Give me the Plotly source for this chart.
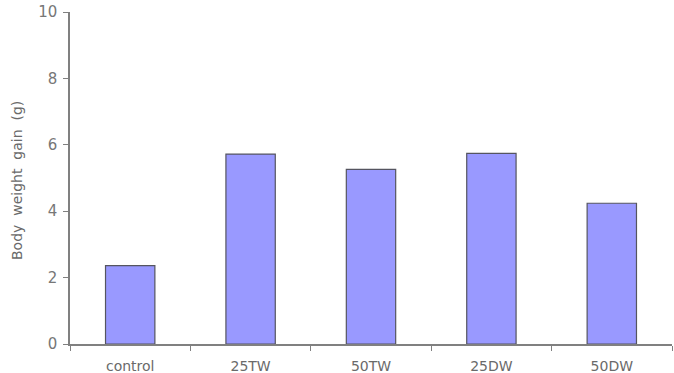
import plotly.graph_objects as go

categories = ["control", "25TW", "50TW", "25DW", "50DW"]
values = [2.36, 5.72, 5.26, 5.74, 4.24]
y_ticks = [0, 2, 4, 6, 8, 10]
y_title = "Body\u00a0 weight\u00a0 gain\u00a0 (g)"

fig = go.Figure(go.Bar(
    x=categories, y=values, width=0.41,
    marker=dict(color="#9999ff", line=dict(color="#555560", width=1.2)),
))

fig.update_layout(
    width=674, height=373,
    margin=dict(l=70, r=2, t=12, b=29),
    plot_bgcolor="white", paper_bgcolor="white",
    showlegend=False,
    font=dict(family="DejaVu Sans, sans-serif", color="#666666", size=14),
)
fig.update_xaxes(
    showline=True, linecolor="#808080", linewidth=1.5,
    ticks="outside", tickson="boundaries", ticklen=5, tickcolor="#808080",
    tickfont=dict(size=14, color="#6a6a6a"), ticklabelstandoff=8,
    range=[-0.5, 4.5], automargin=False,
)
fig.update_yaxes(
    range=[0, 10], tickvals=y_ticks, showgrid=False, zeroline=False,
    showline=True, linecolor="#808080", linewidth=1.5,
    ticks="outside", ticklen=5, tickcolor="#808080",
    tickfont=dict(size=15, color="#777777"), ticklabelstandoff=3,
    automargin=False,
)
fig.add_annotation(
    text=y_title, textangle=-90, showarrow=False,
    xref="paper", yref="paper", x=-53 / 602, y=0.491,
    xanchor="center", yanchor="middle",
    font=dict(size=14, color="#6a6a6a"),
)
fig.write_html("out.html")
